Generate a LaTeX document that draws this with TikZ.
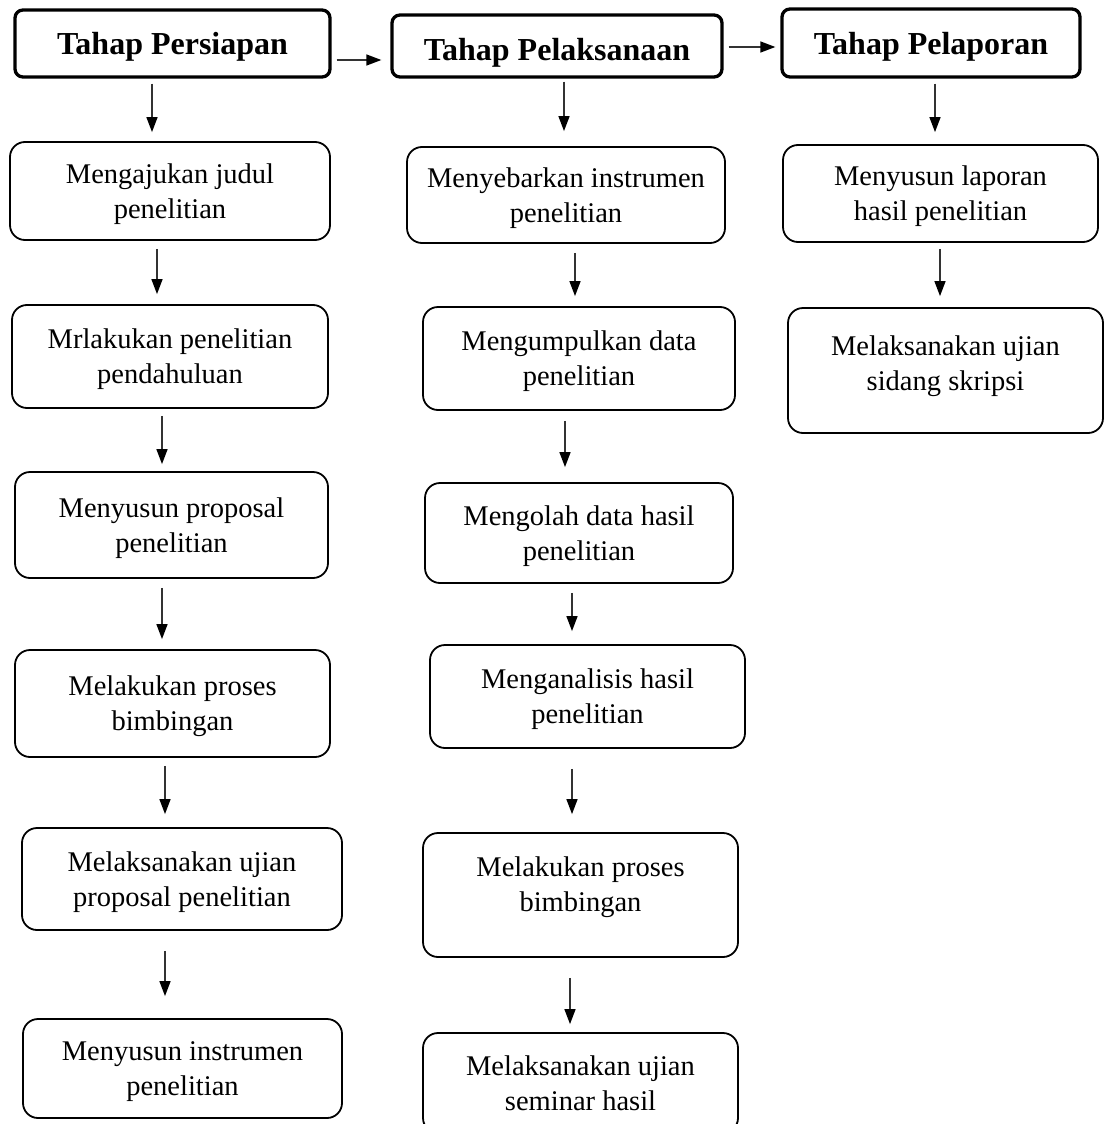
\documentclass[tikz,border=0pt]{standalone}
\usepackage{fontspec}
\setmainfont{Liberation Serif}
\usetikzlibrary{arrows.meta}

\tikzset{
  tahap/.style={draw, line width=3.3pt, rounded corners=8pt, inner sep=0pt, text depth=0pt,
    font=\fontsize{32}{36}\selectfont\bfseries},
  kotak/.style={draw, line width=1.8pt, rounded corners=15pt, inner sep=0pt, text depth=0pt,
    align=center, font=\fontsize{28.5}{35}\selectfont},
  panah/.style={-{Triangle[length=15pt,width=11pt,color=black]}, line width=1.4pt, draw=black!80}
}

\begin{document}
\begin{tikzpicture}[x=1pt,y=-1pt]
\useasboundingbox (0,0) rectangle (1103,1124);

\node[tahap, minimum width=315pt, minimum height=67pt] (h1) at (172.5,43.5) {Tahap Persiapan};
\node[tahap, minimum width=330pt, minimum height=62pt, text height=30pt] (h2) at (557,46) {Tahap Pelaksanaan};
\node[tahap, minimum width=298pt, minimum height=68pt] (h3) at (931,43) {Tahap Pelaporan};

% persiapan
\node[kotak, minimum width=320pt, minimum height=98pt] (b1) at (170,191) {Mengajukan judul\\penelitian};
\node[kotak, minimum width=316pt, minimum height=103pt] (b2) at (170,356.5) {Mrlakukan penelitian\\pendahuluan};
\node[kotak, minimum width=313pt, minimum height=106pt] (b3) at (171.5,525) {Menyusun proposal\\penelitian};
\node[kotak, minimum width=315pt, minimum height=107pt] (b4) at (172.5,703.5) {Melakukan proses\\bimbingan};
\node[kotak, minimum width=320pt, minimum height=102pt] (b5) at (182,879) {Melaksanakan ujian\\proposal penelitian};
\node[kotak, minimum width=319pt, minimum height=99pt] (b6) at (182.5,1068.5) {Menyusun instrumen\\penelitian};

% pelaksanaan
\node[kotak, minimum width=318pt, minimum height=96pt] (c1) at (566,195) {Menyebarkan instrumen\\penelitian};
\node[kotak, minimum width=312pt, minimum height=103pt] (c2) at (579,358.5) {Mengumpulkan data\\penelitian};
\node[kotak, minimum width=308pt, minimum height=100pt] (c3) at (579,533) {Mengolah data hasil\\penelitian};
\node[kotak, minimum width=315pt, minimum height=103pt] (c4) at (587.5,696.5) {Menganalisis hasil\\penelitian};
\node[kotak, minimum width=315pt, minimum height=124pt, text depth=22pt] (c5) at (580.5,895) {Melakukan proses\\bimbingan};
\node[kotak, minimum width=315pt, minimum height=100pt] (c6) at (580.5,1083) {Melaksanakan ujian\\seminar hasil};

% pelaporan
\node[kotak, minimum width=315pt, minimum height=97pt] (d1) at (940.5,193.5) {Menyusun laporan\\hasil penelitian};
\node[kotak, minimum width=315pt, minimum height=125pt, text depth=14pt] (d2) at (945.5,370.5) {Melaksanakan ujian\\sidang skripsi};

% antar tahap
\draw[panah, shorten <=5pt, shorten >=9pt] ([yshift=-16.5pt]h1.east) -- ([yshift=-14pt]h2.west);
\draw[panah, shorten <=5pt, shorten >=5pt] ([yshift=-1pt]h2.east) -- ([yshift=-4pt]h3.west);

\draw[panah, shorten <=5pt, shorten >=9pt] ([xshift=-20.5pt]h1.south) -- ([xshift=-18pt]b1.north);
\draw[panah, shorten <=8pt, shorten >=10pt] ([xshift=-13pt]b1.south) -- ([xshift=-13pt]b2.north);
\draw[panah, shorten <=7pt, shorten >=7pt] ([xshift=-8pt]b2.south) -- ([xshift=-9.5pt]b3.north);
\draw[panah, shorten <=9pt, shorten >=10pt] ([xshift=-9.5pt]b3.south) -- ([xshift=-10.5pt]b4.north);
\draw[panah, shorten <=8pt, shorten >=13pt] ([xshift=-7.5pt]b4.south) -- ([xshift=-17pt]b5.north);
\draw[panah, shorten <=20pt, shorten >=22pt] ([xshift=-17pt]b5.south) -- ([xshift=-17.5pt]b6.north);

\draw[panah, shorten <=3pt, shorten >=15pt] ([xshift=7pt]h2.south) -- ([xshift=-2pt]c1.north);
\draw[panah, shorten <=9pt, shorten >=10pt] ([xshift=9pt]c1.south) -- ([xshift=-4pt]c2.north);
\draw[panah, shorten <=10pt, shorten >=15pt] ([xshift=-14pt]c2.south) -- ([xshift=-14pt]c3.north);
\draw[panah, shorten <=9pt, shorten >=13pt] ([xshift=-7pt]c3.south) -- ([xshift=-15.5pt]c4.north);
\draw[panah, shorten <=20pt, shorten >=18pt] ([xshift=-15.5pt]c4.south) -- ([xshift=-8.5pt]c5.north);
\draw[panah, shorten <=20pt, shorten >=8pt] ([xshift=-10.5pt]c5.south) -- ([xshift=-10.5pt]c6.north);

\draw[panah, shorten <=5pt, shorten >=12pt] ([xshift=4pt]h3.south) -- ([xshift=-5.5pt]d1.north);
\draw[panah, shorten <=6pt, shorten >=11pt] ([xshift=-0.5pt]d1.south) -- ([xshift=-5.5pt]d2.north);

\end{tikzpicture}
\end{document}
